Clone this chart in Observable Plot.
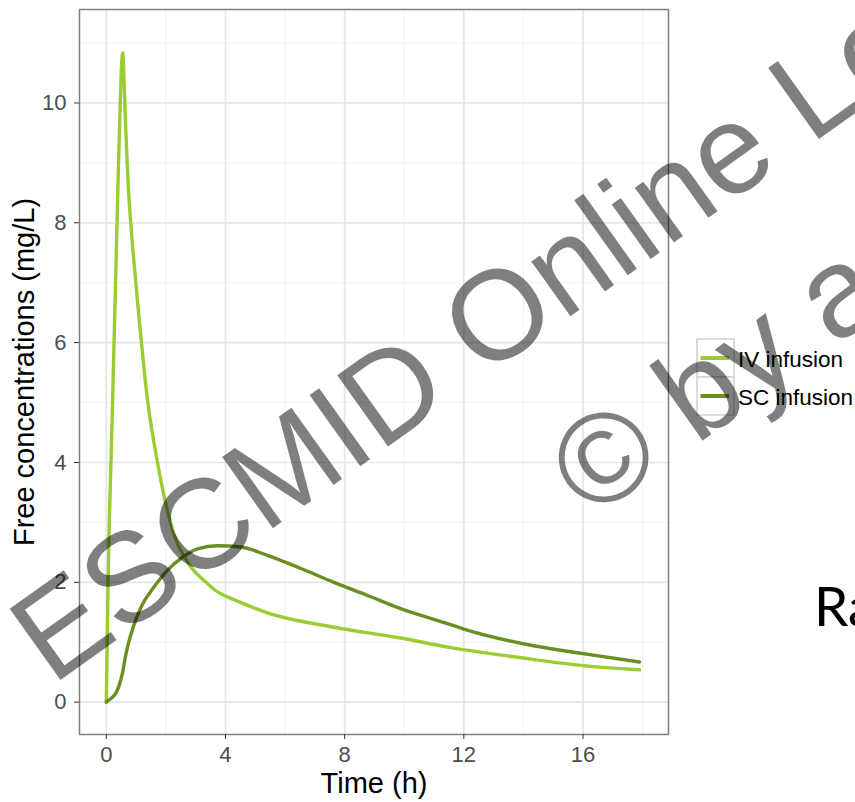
<!DOCTYPE html>
<html>
<head>
<meta charset="utf-8">
<script src="https://cdn.jsdelivr.net/npm/d3@7"></script>
<script src="https://cdn.jsdelivr.net/npm/@observablehq/plot@0.6"></script>
<style>
  html, body { margin: 0; padding: 0; background: #fff; }
  #wrap { position: relative; width: 855px; height: 802px; overflow: hidden; background: #fff; }
  #wrap > svg, #wrap > div { position: absolute; left: 0; top: 0; }
  .ov { pointer-events: none; }
</style>
</head>
<body>
<div id="wrap"></div>
<script>
// ---- data ----
const seriesNames = ["IV infusion", "SC infusion"];
const seriesColors = ["#9ACD32", "#6B8E23"];

const ivTime = [0, 0.03, 0.06, 0.1, 0.15, 0.2, 0.25, 0.3, 0.35, 0.4, 0.45, 0.5, 0.55, 0.6, 0.65, 0.7, 0.75, 0.82, 0.9, 1.0, 1.1, 1.2, 1.3, 1.42, 1.56, 1.7, 1.85, 2.0, 2.2, 2.4, 2.56, 2.8, 3.06, 3.35, 3.62, 4.0, 4.28, 5.41, 7.64, 9.88, 11.56, 13.8, 16, 17.9];
const ivConc = [0, 1.0, 2.0, 3.0, 3.9, 4.8, 5.8, 6.8, 7.8, 8.8, 9.7, 10.5, 10.84, 10.3, 9.6, 9.0, 8.5, 8.0, 7.5, 6.95, 6.4, 5.9, 5.4, 4.9, 4.45, 4.05, 3.65, 3.3, 2.92, 2.63, 2.48, 2.28, 2.13, 2.0, 1.88, 1.77, 1.71, 1.49, 1.25, 1.07, 0.91, 0.75, 0.61, 0.54];

const scTime = [0, 0.1, 0.2, 0.32, 0.43, 0.54, 0.65, 0.88, 1.16, 1.6, 2.05, 2.56, 3.06, 3.73, 4.51, 5.41, 6.53, 7.64, 8.77, 9.88, 11.45, 12, 14.25, 16, 17.9];
const scConc = [0, 0.04, 0.08, 0.15, 0.28, 0.48, 0.78, 1.22, 1.58, 1.92, 2.2, 2.42, 2.56, 2.61, 2.59, 2.45, 2.23, 2.0, 1.78, 1.56, 1.31, 1.22, 0.95, 0.81, 0.67];

const xTicks = [0, 4, 8, 12, 16];
const xMinor = [2, 6, 10, 14, 18];
const yTicks = [0, 2, 4, 6, 8, 10];
const yMinor = [1, 3, 5, 7, 9, 11];

const xTitle = "Time (h)";
const yTitle = "Free concentrations (mg/L)";
const wmLine1 = "ESCMID Online Lecture Library";
const wmLine2 = "\u00A9 by author";
const sideText = "Ra";

// ---- build tidy table ----
const rows = [];
ivTime.forEach((t, i) => rows.push({t, c: ivConc[i], series: seriesNames[0]}));
scTime.forEach((t, i) => rows.push({t, c: scConc[i], series: seriesNames[1]}));

const FONT = "'Liberation Sans', Arial, sans-serif";

const chart = Plot.plot({
  width: 855,
  height: 802,
  marginLeft: 79,
  marginRight: 187,
  marginTop: 9,
  marginBottom: 68,
  style: { fontFamily: FONT, background: "#fff", overflow: "visible" },
  x: { domain: [-0.9, 18.87], label: null },
  y: { domain: [-0.54, 11.56], label: null },
  color: { domain: seriesNames, range: seriesColors },
  marks: [
    Plot.gridX(xMinor, { stroke: "#F2F2F2", strokeOpacity: 1, strokeWidth: 1 }),
    Plot.gridY(yMinor, { stroke: "#F2F2F2", strokeOpacity: 1, strokeWidth: 1 }),
    Plot.gridX(xTicks, { stroke: "#E6E6E6", strokeOpacity: 1, strokeWidth: 1.7 }),
    Plot.gridY(yTicks, { stroke: "#E6E6E6", strokeOpacity: 1, strokeWidth: 1.7 }),
    Plot.line(rows, { x: "t", y: "c", stroke: "series", z: "series", strokeWidth: 3.4, curve: "monotone-x", strokeLinejoin: "round" }),
    Plot.frame({ stroke: "#7F7F7F", strokeWidth: 1.5 }),
    Plot.axisX(xTicks, { tickSize: 5, tickPadding: 7, fontSize: 22, stroke: "#333", fill: "#4D4D4D", label: null, tickFormat: d => String(d) }),
    Plot.axisY(yTicks, { tickSize: 5, tickPadding: 8, fontSize: 22, stroke: "#333", fill: "#4D4D4D", label: null, tickFormat: d => String(d) }),
    Plot.text([xTitle], { frameAnchor: "bottom", text: d => d, dy: 49, lineAnchor: "middle", fontSize: 29, fill: "#000" }),
    Plot.text([yTitle], { frameAnchor: "left", text: d => d, dx: -55, rotate: -90, textAnchor: "middle", lineAnchor: "middle", fontSize: 29, fill: "#000" })
  ]
});

const wrap = document.getElementById("wrap");
wrap.appendChild(chart);

// ---- legend + overlays ----
const NS = "http://www.w3.org/2000/svg";
const ov = document.createElementNS(NS, "svg");
ov.setAttribute("width", 855);
ov.setAttribute("height", 802);
ov.setAttribute("class", "ov");
ov.style.position = "absolute";
ov.style.left = "0";
ov.style.top = "0";

function el(tag, attrs, text) {
  const e = document.createElementNS(NS, tag);
  for (const k in attrs) e.setAttribute(k, attrs[k]);
  if (text != null) e.textContent = text;
  return e;
}

// legend
const lg = el("g", { transform: "translate(697,339)" });
seriesNames.forEach((name, i) => {
  const g = el("g", { transform: `translate(0,${i * 38})` });
  g.appendChild(el("rect", { x: 0, y: 0, width: 37, height: 38, fill: "#fff", stroke: "#D0D0D0", "stroke-width": 1.5 }));
  g.appendChild(el("line", { x1: 3.5, x2: 32, y1: 19, y2: 19, stroke: seriesColors[i], "stroke-width": 4 }));
  g.appendChild(el("text", { x: 41, y: 20, dy: "0.36em", "font-size": 22.5, "font-family": FONT, fill: "#000" }, name));
  lg.appendChild(g);
});
ov.appendChild(lg);

// side text
ov.appendChild(el("text", { x: 814, y: 626, "font-size": 55, "font-family": "Lato, 'Open Sans', sans-serif", fill: "#000" }, sideText));

// watermark
const wm = el("g", { transform: "translate(52,686) rotate(-35.5)", "font-family": FONT, "font-size": 127, fill: "#000", "fill-opacity": 0.5 });
wm.appendChild(el("text", { x: 0, y: 0 }, wmLine1));
wm.appendChild(el("text", { x: 535, y: 178 }, wmLine2));
ov.appendChild(wm);

wrap.appendChild(ov);
</script>
</body>
</html>
